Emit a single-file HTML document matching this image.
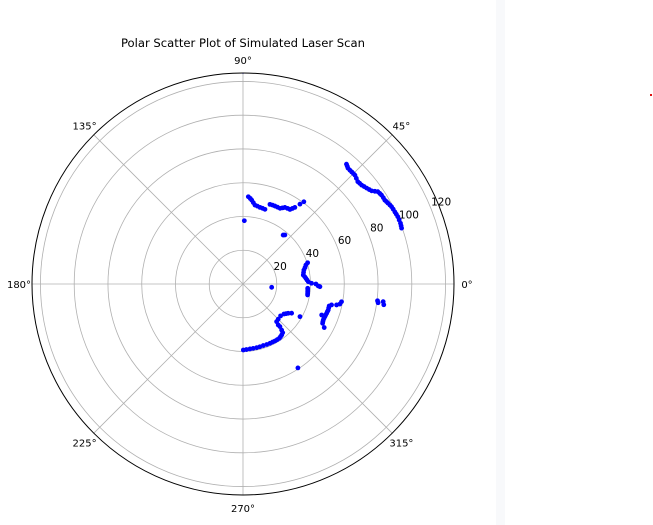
<!DOCTYPE html>
<html><head><meta charset="utf-8">
<style>
html,body{margin:0;padding:0;background:#fff;}
body{width:653px;height:525px;overflow:hidden;position:relative;font-family:"DejaVu Sans","Liberation Sans",sans-serif;}
#strip{position:absolute;left:496px;top:0;width:9px;height:525px;background:#f8f9fb;}
#reddot{position:absolute;left:650px;top:94px;width:2px;height:2px;background:#e01010;}
svg{position:absolute;left:0;top:0;}
</style></head>
<body>
<div id="strip"></div>
<div id="reddot"></div>
<svg id="chart" width="653" height="525">
<defs><clipPath id="clipc"><circle cx="243" cy="284" r="211"/></clipPath></defs>
</svg>
<script>
const thetaDeg = [
49.2,48.5,47.8,46.8,45.9,45,44.2,43,41.7,40.8,39.8,38.8,37.8,36.8,35.9,35.1,34.4,33.5,32.7,31.6,30.6,29.9,29.2,28.3,27.5,26.5,25.4,24.5,23.5,22.3,21.1,20.2,19.4,
86.5,85.2,84.1,82.8,81.4,79.5,77.5,75.5,73.6,71.3,69.5,67.7,65.8,63.9,62.6,61.3,59.5,57.8,56.8,55.9,54.5,53.5,
88.8,50.6,49.5,90,-6.6,
18.2,16.8,14.8,12.9,10.7,8.5,6.8,5.2,3.6,2.0,0.6,0,-1.5,-2.0,-3.8,-5.3,-6.8,-8.2,-9.6,
-10.2,-11.7,-12.6,-13.3,-14.3,-15.6,-17.0,-18.1,-19.3,-20.5,-21.7,-22.9,-24.1,-25.2,-26.3,-28.2,-21.5,
-7.1,-7.9,-7.2,-8.4,
-31.0,-32.9,-34.5,-36.2,-40.3,-45,-48.2,-49.3,-49.1,-50,-50.8,-29.8,
-89.7,-87,-83.9,-81,-77.9,-75,-71.8,-68.5,-65.5,-63,-60.7,-58.5,-56.2,-54.5,-52.8,
-56.8
];
const radius = [
93.8,93.2,92.6,92.5,92.5,92.5,92.5,91.8,91.1,91.3,91.5,92.1,92.7,93.4,94.1,95.5,96.8,97.2,97.5,97.6,97.6,98,98.3,98.8,99.2,99.4,99.6,99.8,100,100,100,99.8,99.6,
51.8,50.9,50,48.6,47.3,46.9,46.5,46.3,46.1,49.8,49.9,49.9,49.9,49.9,50.8,51.7,52,52.2,53.5,54.8,58.1,60.6,
37.5,37.5,38.2,126,17.1,
40.3,38.9,38,37,36.5,36.1,36.8,37.4,38,38.7,40.6,43.2,44.6,45.6,38.4,38.5,38.6,38.7,38.8,
59.3,58.6,56.8,53.9,52.7,52.7,52.8,52.6,52.5,52.3,52.2,52.1,52.1,52.3,52.6,54.6,50.1,
80.3,80.8,83.7,84.3,
33.6,31.9,31,30.1,29.2,29.5,29.9,32,33.4,35.6,37.2,38.9,
39.1,38.9,38.7,38.6,38.6,38.5,38.4,38.5,38.6,38.6,38.7,38.7,38.7,38.3,37.9,
59.4
];
const rTicks = [20,40,60,80,100,120];
const rTickLabels = ["20","40","60","80","100","120"];
const angleTicks = [0,45,90,135,180,225,270,315];
const angleLabels = ["0°","45°","90°","135°","180°","225°","270°","315°"];

const NS="http://www.w3.org/2000/svg";
const svg=document.getElementById('chart');
const cx=243, cy=284, R=211, rMax=125;
function rScale(r){return Math.min(r,rMax+1.5)/rMax*R;}
function px(t,r){const a=t*Math.PI/180;return [cx+rScale(r)*Math.cos(a), cy-rScale(r)*Math.sin(a)];}
function mk(tag,attrs){const e=document.createElementNS(NS,tag);for(const k in attrs)e.setAttribute(k,attrs[k]);svg.appendChild(e);return e;}

const title=mk('text',{x:243,y:47,'text-anchor':'middle','font-size':'11.6','fill':'#000'});
title.textContent='Polar Scatter Plot of Simulated Laser Scan';



rTicks.forEach((v,i)=>{
  const c=mk('circle',{cx:cx,cy:cy,r:rScale(v),fill:'none',stroke:'#b0b0b0','stroke-width':'0.8'});
  
  
});
angleTicks.forEach(t=>{
  const p=px(t,rMax);
  const l=mk('line',{x1:cx,y1:cy,x2:p[0],y2:p[1],stroke:'#b0b0b0','stroke-width':'0.8'});
  
  
});

angleTicks.forEach((t,i)=>{
  const a=t*Math.PI/180, d=R+13;
  const x=cx+d*Math.cos(a), y=cy-d*Math.sin(a);
  const tx=mk('text',{x:x,y:y+4,'text-anchor':'middle','font-size':'10','fill':'#000'});
  tx.textContent=angleLabels[i];
  
  
});
rTicks.forEach((v,i)=>{
  const p=px(22.5,v);
  const tx=mk('text',{x:p[0]+5+v*0.05,y:p[1]-1,'text-anchor':'middle','font-size':'10.5','fill':'#000'});
  tx.textContent=rTickLabels[i];
  
  
});

const g=mk('g',{'clip-path':'url(#clipc)'});


thetaDeg.forEach((t,i)=>{
  const p=px(t,radius[i]);
  const c=document.createElementNS(NS,'circle');
  c.setAttribute('cx',p[0]);c.setAttribute('cy',p[1]);c.setAttribute('r',2.4);c.setAttribute('fill','#0000ff');
  
  
  g.appendChild(c);
});

const fr=mk('circle',{cx:cx,cy:cy,r:R,fill:'none',stroke:'#000','stroke-width':'1'});


</script>
</body></html>
